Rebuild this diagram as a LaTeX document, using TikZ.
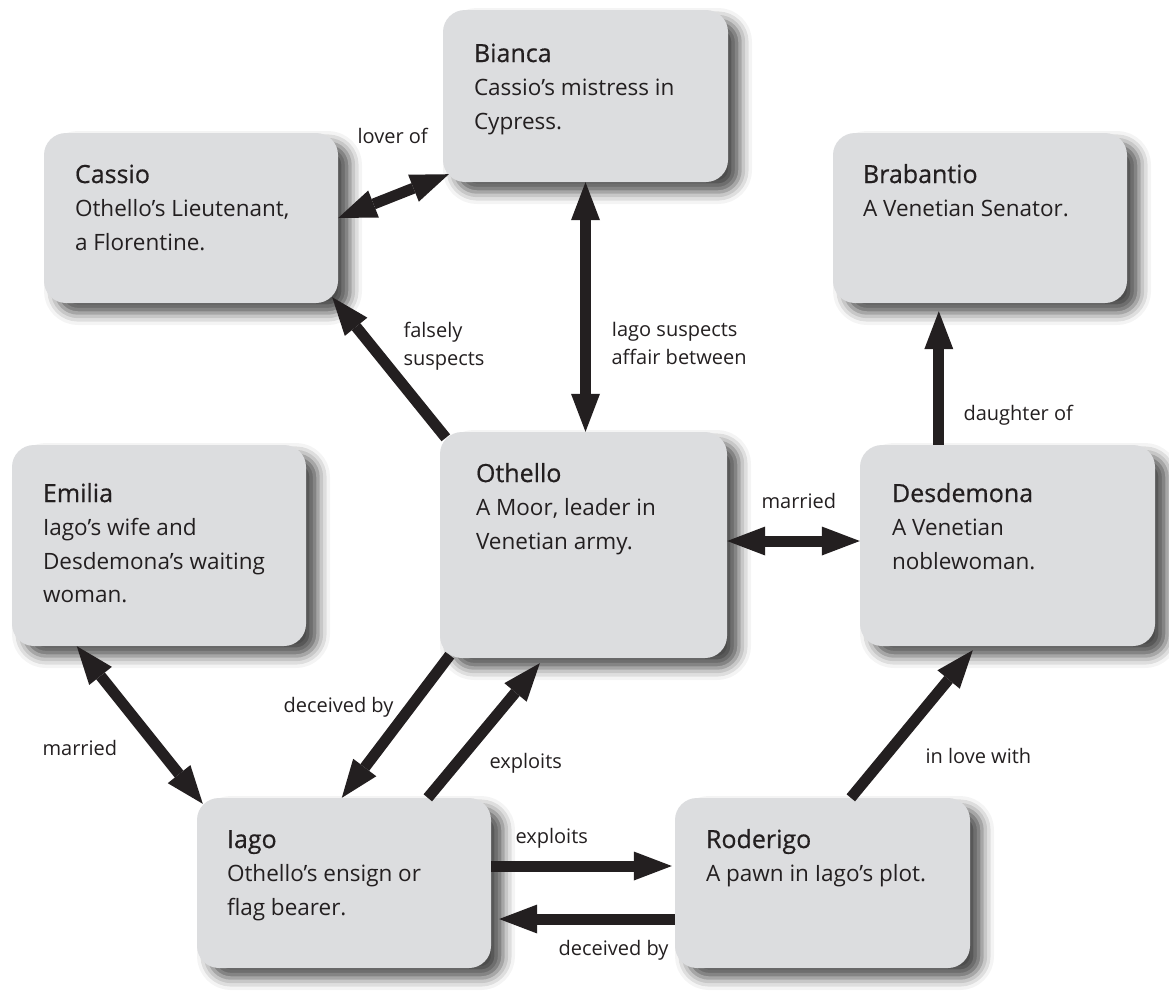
\documentclass[tikz,border=0pt]{standalone}
\usepackage{fontspec}
\setmainfont{Open Sans}
\newfontfamily\headfont[FakeBold=0.6]{Open Sans}
\usetikzlibrary{arrows.meta,shadows.blur}
\definecolor{boxgray}{HTML}{DCDDDF}
\definecolor{ink}{HTML}{231F20}
\tikzset{
  Head/.tip={Triangle[length=38pt,width=29pt,line width=0pt]},
  card/.style={rounded corners=22pt, fill=boxgray, inner sep=0pt,
    blur shadow={shadow xshift=12pt, shadow yshift=-10pt,
      shadow blur radius=12pt, shadow opacity=70}},
  blurb/.style={anchor=north west, align=left, inner sep=0pt, text=ink,
    font=\fontsize{22.5}{33.5}\selectfont},
  tag/.style={anchor=base west, align=left, text=ink,
    font=\fontsize{20}{28}\selectfont},
  link/.style={draw=ink, line width=11pt, -Head},
  both/.style={draw=ink, line width=11pt, Head-Head}
}
% title line, with a fixed height of 20pt above its baseline
\newcommand{\who}[1]{\rule{0pt}{20pt}{\headfont\fontsize{25}{33.5}\selectfont #1}}
\begin{document}
\begin{tikzpicture}[x=1pt, y=-1pt]
        \useasboundingbox (0,0) rectangle (1169,994);
        % the characters
        \node[card, minimum width=285pt, minimum height=172pt] (bianca) at (585.5,96) {};
        \node[card, minimum width=294pt, minimum height=170pt] (cassio) at (191,218) {};
        \node[card, minimum width=294pt, minimum height=170pt] (brabantio) at (980,218) {};
        \node[card, minimum width=294pt, minimum height=201pt] (emilia) at (159,545.5) {};
        \node[card, minimum width=287pt, minimum height=226pt] (othello) at (583.5,545) {};
        \node[card, minimum width=295pt, minimum height=201pt] (desdemona) at (1007.5,545.5) {};
        \node[card, minimum width=294pt, minimum height=170pt] (iago) at (344,883) {};
        \node[card, minimum width=295pt, minimum height=170pt] (roderigo) at (822.5,883) {};

        \node[blurb] (biancatxt) at ([shift={(31,32)}]bianca.north west)
          {\who{Bianca}\\Cassio’s mistress in\\Cypress.};
        \node[blurb] (cassiotxt) at ([shift={(31,30)}]cassio.north west)
          {\who{Cassio}\\Othello’s Lieutenant,\\a Florentine.};
        \node[blurb] (brabantiotxt) at ([shift={(30,30)}]brabantio.north west)
          {\who{Brabantio}\\A Venetian Senator.};
        \node[blurb] (emiliatxt) at ([shift={(31,37)}]emilia.north west)
          {\who{Emilia}\\Iago’s wife and\\Desdemona’s waiting\\woman.};
        \node[blurb] (othellotxt) at ([shift={(36,30)}]othello.north west)
          {\who{Othello}\\A Moor, leader in\\Venetian army.};
        \node[blurb] (desdemonatxt) at ([shift={(32,37)}]desdemona.north west)
          {\who{Desdemona}\\A Venetian\\noblewoman.};
        \node[blurb] (iagotxt) at ([shift={(30,30)}]iago.north west)
          {\who{Iago}\\Othello’s ensign or\\flag bearer.};
        \node[blurb] (roderigotxt) at ([shift={(31,30)}]roderigo.north west)
          {\who{Roderigo}\\A pawn in Iago’s plot.};

        % the relations
        \coordinate (dtop) at ([xshift=79pt]desdemona.north west);
        \coordinate (oeast) at ([yshift=4pt]othello.east);
        \coordinate (ieast) at ([yshift=17pt]iago.east);
        \coordinate (rwest) at ([yshift=-36pt]roderigo.west);

        \draw[both] (cassio.east) -- ([shift={(6,-8)}]bianca.south west);
        \draw[link] ([shift={(6,6)}]othello.north west) -- ([shift={(-6,-6)}]cassio.south east);
        \draw[both] (bianca.south) -- (bianca.south |- othello.north);
        \draw[link, shorten >=8pt] (dtop) -- (dtop |- brabantio.south);
        \draw[both] (oeast) -- (oeast -| desdemona.west);
        \draw[both] ([xshift=65pt]emilia.south west) -- ([shift={(6,6)}]iago.north west);
        \draw[link] ([shift={(10,-3)}]othello.south west) -- ([xshift=145pt]iago.north west);
        \draw[link] ([xshift=231pt]iago.north west) -- ([shift={(100,5)}]othello.south west);
        \draw[link, shorten >=3pt] (ieast) -- (ieast -| roderigo.west);
        \draw[link, shorten >=8pt] (rwest) -- (rwest -| iago.east);
        \draw[link] ([xshift=176pt]roderigo.north west) -- ([shift={(113,4)}]desdemona.south west);

        \node[tag] (loverof) at (354,143) {lover of};
        \node[tag] (falsely) at (400,365) {falsely\\suspects};
        \node[tag] (affair) at (608,364) {Iago suspects\\affair between};
        \node[tag] (daughterof) at (960,420) {daughter of};
        \node[tag] (marriedod) at (758,508) {married};
        \node[tag] (marriedei) at (39,755) {married};
        \node[tag] (deceivedoi) at (280,712) {deceived by};
        \node[tag] (exploitsio) at (486,768) {exploits};
        \node[tag] (exploitsir) at (512,843) {exploits};
        \node[tag] (deceivedri) at (555,955) {deceived by};
        \node[tag] (inlove) at (922,763) {in love with};
\end{tikzpicture}
\end{document}
